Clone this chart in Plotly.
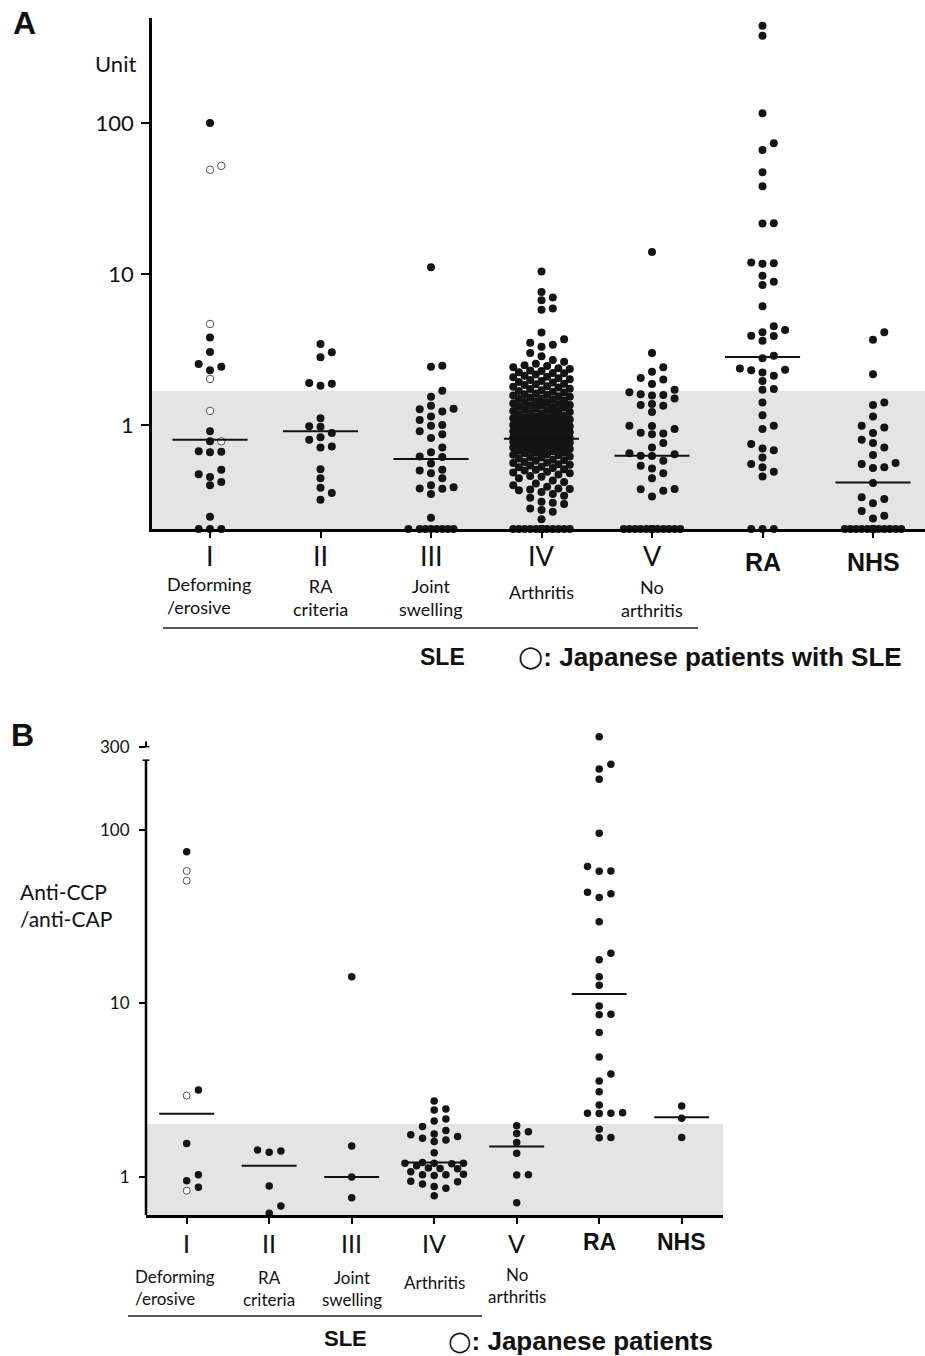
import numpy as np
import plotly.graph_objects as go

W, H = 925, 1356

# ---------------- categories / labels ----------------
groups = ["I", "II", "III", "IV", "V", "RA", "NHS"]
roman_labels = ["I", "II", "III", "IV", "V"]
bold_labels = ["RA", "NHS"]
sub_labels = ["Deforming<br>/erosive", "RA<br>criteria", "Joint<br>swelling", "Arthritis", "No<br>arthritis"]

# ---------------- Panel A (Unit) : 0 = below detection (plotted on axis) ----------------
a_I_filled = [100, 3.8, 3.04, 2.31, 2.43, 2.54, 0.91, 0.78, 0.665, 0.67, 0.66, 0.506, 0.453, 0.40, 0.42, 0.473, 0.247, 0, 0, 0]
a_I_open = [52, 49, 4.67, 2.02, 1.24, 0.78]
a_II = [3.44, 3.03, 2.81, 1.90, 1.82, 1.88, 1.11, 0.98, 0.975, 0.83, 0.885, 0.80, 0.72, 0.71, 0.51, 0.444, 0.385, 0.355, 0.32]
a_III = [11.1, 2.43, 2.47, 1.69, 1.54, 1.28, 1.34, 1.23, 1.27, 1.14, 1.08, 0.99, 1.0, 0.87, 0.91, 0.82, 0.71,
         0.62, 0.615, 0.66, 0.557, 0.506, 0.48, 0.50, 0.444, 0.40, 0.38, 0.35, 0.378, 0.387, 0.243,
         0, 0, 0, 0, 0, 0, 0, 0]
a_IV = [10.4, 7.6, 7.0, 6.7, 5.9, 5.8, 4.1, 3.7, 3.5, 3.4, 3.3, 3.0, 2.85, 2.7,
        2.62, 2.55, 2.49, 2.46, 2.41, 2.38, 2.35, 2.3, 2.28, 2.24, 2.21, 2.2, 2.16, 2.12, 2.09, 2.07, 2.04, 2.01,
        1.99, 1.96, 1.93, 1.91, 1.88, 1.86, 1.84, 1.81, 1.79, 1.77, 1.74, 1.73, 1.7, 1.68, 1.66, 1.64, 1.62, 1.6,
        1.59, 1.57, 1.55, 1.54, 1.52, 1.5, 1.49, 1.47, 1.45, 1.44, 1.42, 1.41, 1.39, 1.38, 1.36, 1.35, 1.34, 1.32,
        1.31, 1.3, 1.28, 1.27, 1.26, 1.24, 1.23, 1.22, 1.2, 1.19, 1.18, 1.17, 1.15, 1.14, 1.13, 1.12, 1.11, 1.1,
        1.09, 1.08, 1.07, 1.06, 1.05, 1.04, 1.03, 1.02, 1.01, 1.0, 0.99, 0.98, 0.975, 0.965, 0.955, 0.95, 0.94,
        0.93, 0.925, 0.915, 0.91, 0.9, 0.895, 0.885, 0.88, 0.87, 0.865, 0.86, 0.85, 0.845, 0.84, 0.83, 0.825,
        0.82, 0.815, 0.81, 0.805, 0.8, 0.795, 0.79, 0.785, 0.78, 0.775, 0.77, 0.765, 0.76, 0.75, 0.745, 0.74,
        0.735, 0.73, 0.72, 0.715, 0.71, 0.7, 0.695, 0.69, 0.68, 0.675, 0.67, 0.66, 0.655, 0.65, 0.64, 0.635,
        0.63, 0.62, 0.615, 0.61, 0.6, 0.59, 0.585, 0.58, 0.57, 0.565, 0.56, 0.55, 0.545, 0.54, 0.53, 0.525,
        0.52, 0.51, 0.505, 0.5, 0.49, 0.485, 0.48, 0.47, 0.46, 0.455,
        0.445, 0.43, 0.42, 0.41, 0.4, 0.39, 0.38, 0.377, 0.374, 0.37, 0.36, 0.35, 0.34, 0.33, 0.31, 0.306,
        0.3, 0.28, 0.274, 0.267, 0.238,
        0, 0, 0, 0, 0, 0, 0, 0, 0, 0, 0, 0, 0, 0, 0, 0, 0, 0, 0, 0]
a_V = [14, 3.0, 2.41, 2.25, 2.05, 2.0, 1.87, 1.58, 1.65, 1.71, 1.57, 1.6, 1.34, 1.50, 1.36, 1.38, 1.22,
       0.99, 0.94, 0.985, 0.87, 0.88, 0.89, 0.76, 0.71, 0.627, 0.64, 0.625, 0.65, 0.516, 0.58, 0.537, 0.48,
       0.444, 0.377, 0.367, 0.376, 0.337,
       0, 0, 0, 0, 0, 0, 0, 0, 0, 0, 0, 0, 0, 0]
a_RA = [441, 378, 116, 73.4, 66.2, 47.1, 38.1, 21.7, 21.6, 11.8, 11.7, 11.9, 8.9, 8.46, 9.75, 6.11, 4.51,
        4.26, 3.9, 3.62, 3.88, 4.11, 2.88, 2.77, 2.37, 2.32, 2.12, 2.23, 1.96, 2.31, 1.73, 1.71, 1.41, 1.16,
        0.94, 0.99, 0.70, 0.75, 0.68, 0.61, 0.552, 0.525, 0.49, 0.457, 0, 0, 0]
a_NHS = [3.67, 4.11, 2.17, 1.36, 1.41, 1.14, 0.99, 0.965, 0.885, 0.80, 0.76, 0.71, 0.633, 0.552, 0.525,
         0.52, 0.56, 0.413, 0.332, 0.324, 0.304, 0.251, 0.27, 0.241,
         0, 0, 0, 0, 0, 0, 0, 0, 0, 0, 0, 0, 0, 0, 0]
a_medians = [0.80, 0.91, 0.595, 0.81, 0.627, 2.82, 0.417]
a_cutoff = 1.69
a_yticks = [1, 10, 100]

# ---------------- Panel B (Anti-CCP / anti-CAP) ----------------
b_I_filled = [74.6, 3.17, 1.56, 1.03, 0.95, 0.873]
b_I_open = [57.8, 50.8, 2.94, 0.834]
b_II = [1.43, 1.39, 1.41, 0.887, 0.68, 0.618]
b_III = [14.2, 1.51, 1.0, 0.76]
b_IV = [2.74, 2.43, 2.46, 2.16, 2.1, 1.95, 1.85, 1.77, 1.71, 1.63, 1.67, 1.75, 1.6, 1.38, 1.2, 1.21, 1.2,
        1.19, 1.2, 1.16, 1.12, 1.125, 1.07, 1.115, 1.03, 1.035, 1.02, 1.03, 0.94, 0.945, 0.91, 0.88, 0.86, 0.78]
b_V = [1.82, 1.78, 1.97, 1.58, 1.37, 1.03, 1.025, 0.71]
b_RA = [343, 223, 238, 195, 95.2, 57.8, 57.5, 61.3, 43.6, 40.6, 42.7, 29.5, 17.8, 19.4, 14.2, 12.7, 9.66,
        8.65, 8.6, 6.78, 4.9, 3.92, 3.57, 3.1, 2.6, 2.33, 2.34, 2.32, 2.33, 1.88, 1.69, 1.68]
b_NHS = [2.56, 2.18, 1.69]
b_medians = [2.31, 1.16, 1.0, 1.21, 1.50, 11.3, 2.21]
b_cutoff = 2.02
b_yticks = [1, 10, 100, 300]
b_axis_top = 251  # broken axis: solid line ends here, 300 tick sits above the gap

# ---------------- geometry (pixels) ----------------
A_X0, A_X1, A_C0, A_PPU = 152, 925, 210, 110.5
A_Y0, A_Y1 = 18, 529
A_LOG = (np.log10(0.205), 2.695)
B_X0, B_X1, B_C0, B_PPU = 146, 723, 186.7, 82.5
B_Y0, B_Y1 = 732, 1215
B_LOG = (-0.219, 2.562)


def px(x):
    return x / W


def py(y):
    return 1 - y / H


def swarm(vals, floor_log, ppd, step, diam):
    ys = [(np.log10(v) if v > 0 else floor_log) * ppd for v in vals]
    order = sorted(range(len(vals)), key=lambda i: ys[i])
    cands = [0, 1, -1, 2, -2, 0.5, -0.5, 1.5, -1.5, 2.5, -2.5]
    placed = []
    offs = [0.0] * len(vals)
    for i in order:
        y = ys[i]
        best, bestd = 0, -1
        for c in cands:
            x = c * step
            md = min((np.hypot(x - a, y - b) for a, b in placed), default=1e9)
            if md >= diam:
                best = c
                break
            if md > bestd:
                bestd, best = md, c
        offs[i] = best * step
        placed.append((best * step, y))
    return offs


def build(group_lists, open_list, floor_log, ppd, ppu, step, diam):
    fx, fy, ox, oy = [], [], [], []
    for gi, vals in enumerate(group_lists):
        kinds = ["f"] * len(vals)
        allv = list(vals)
        if gi == 0:
            allv += open_list
            kinds += ["o"] * len(open_list)
        offs = swarm(allv, floor_log, ppd, step, diam)
        for v, k, o in zip(allv, kinds, offs):
            yv = v if v > 0 else 10 ** floor_log
            xv = gi + o / ppu
            if k == "f":
                fx.append(xv); fy.append(yv)
            else:
                ox.append(xv); oy.append(yv)
    return fx, fy, ox, oy


a_ppd = (A_Y1 - A_Y0) / (A_LOG[1] - A_LOG[0])
b_ppd = (B_Y1 - B_Y0) / (B_LOG[1] - B_LOG[0])

afx, afy, aox, aoy = build([a_I_filled, a_II, a_III, a_IV, a_V, a_RA, a_NHS], a_I_open,
                           A_LOG[0], a_ppd, A_PPU, 11.3, 8.0)
bfx, bfy, box_, boy = build([b_I_filled, b_II, b_III, b_IV, b_V, b_RA, b_NHS], b_I_open,
                            B_LOG[0], b_ppd, B_PPU, 11.7, 7.5)

fig = go.Figure()

FILL = "#141414"
fig.add_trace(go.Scatter(x=afx, y=afy, mode="markers", xaxis="x", yaxis="y", cliponaxis=False,
                         marker=dict(size=8, color=FILL, line=dict(width=0)), hoverinfo="skip"))
fig.add_trace(go.Scatter(x=aox, y=aoy, mode="markers", xaxis="x", yaxis="y", cliponaxis=False,
                         marker=dict(size=7.5, color="white", line=dict(width=1, color="#555")), hoverinfo="skip"))
fig.add_trace(go.Scatter(x=bfx, y=bfy, mode="markers", xaxis="x2", yaxis="y2", cliponaxis=False,
                         marker=dict(size=7.5, color=FILL, line=dict(width=0)), hoverinfo="skip"))
fig.add_trace(go.Scatter(x=box_, y=boy, mode="markers", xaxis="x2", yaxis="y2", cliponaxis=False,
                         marker=dict(size=7, color="white", line=dict(width=1, color="#555")), hoverinfo="skip"))

# median lines
for meds, xa, ya, hw in [(a_medians, "x", "y", 0.34), (b_medians, "x2", "y2", 0.333)]:
    mx, my = [], []
    for gi, m in enumerate(meds):
        mx += [gi - hw, gi + hw, None]
        my += [m, m, None]
    fig.add_trace(go.Scatter(x=mx, y=my, mode="lines", xaxis=xa, yaxis=ya, cliponaxis=False,
                             line=dict(color="#111", width=2), hoverinfo="skip"))

TICKFONT = "Lato, Open Sans, sans-serif"
BOLD = "Liberation Sans, Arial, sans-serif"

fig.update_layout(
    width=W, height=H, margin=dict(l=0, r=0, t=0, b=0),
    paper_bgcolor="white", plot_bgcolor="rgba(0,0,0,0)", showlegend=False,
    xaxis=dict(domain=[px(A_X0), px(A_X1)], range=[(A_X0 - A_C0) / A_PPU, (A_X1 - A_C0) / A_PPU],
               showline=True, linecolor="black", linewidth=2.5, ticks="outside", ticklen=6, tickwidth=1.5,
               tickcolor="black", tickvals=list(range(len(groups))), showticklabels=False,
               showgrid=False, zeroline=False, anchor="y"),
    yaxis=dict(domain=[py(A_Y1), py(A_Y0)], type="log", range=list(A_LOG), showline=True,
               linecolor="black", linewidth=2.5, ticks="outside", ticklen=8, tickwidth=1.5,
               tickcolor="black", tickvals=a_yticks, ticktext=[str(t) for t in a_yticks],
               tickfont=dict(family=TICKFONT, size=22, color="#111"), ticklabelstandoff=3,
               showgrid=False, zeroline=False, anchor="x"),
    xaxis2=dict(domain=[px(B_X0), px(B_X1)], range=[(B_X0 - B_C0) / B_PPU, (B_X1 - B_C0) / B_PPU],
                showline=True, linecolor="black", linewidth=2.5, ticks="outside", ticklen=6, tickwidth=1.5,
                tickcolor="black", tickvals=list(range(len(groups))), showticklabels=False,
                showgrid=False, zeroline=False, anchor="y2"),
    yaxis2=dict(domain=[py(B_Y1), py(B_Y0)], type="log", range=list(B_LOG), showline=False,
                ticks="outside", ticklen=6, tickwidth=1.5, tickcolor="black", tickvals=b_yticks,
                ticktext=[str(t) for t in b_yticks], tickfont=dict(family=TICKFONT, size=17, color="#111"),
                ticklabelstandoff=6, showgrid=False, zeroline=False, anchor="x2"),
)

shapes = []
# grey reference bands (shape coordinates on log axes given as data values)
shapes.append(dict(type="rect", xref="x", yref="y", x0=(A_X0 - A_C0) / A_PPU, x1=(A_X1 - A_C0) / A_PPU,
                   y0=10 ** A_LOG[0], y1=a_cutoff, fillcolor="#e4e4e4", line=dict(width=0), layer="below"))
shapes.append(dict(type="rect", xref="x2", yref="y2", x0=(B_X0 - B_C0) / B_PPU, x1=(B_X1 - B_C0) / B_PPU,
                   y0=10 ** B_LOG[0], y1=b_cutoff, fillcolor="#e4e4e4", line=dict(width=0), layer="below"))
# panel B broken y axis
shapes.append(dict(type="line", xref="paper", yref="y2", x0=px(B_X0), x1=px(B_X0), y0=10 ** B_LOG[0],
                   y1=b_axis_top, line=dict(color="black", width=2.5)))
shapes.append(dict(type="line", xref="paper", yref="y2", x0=px(B_X0 - 3.5), x1=px(B_X0 + 3.5),
                   y0=b_axis_top, y1=b_axis_top, line=dict(color="black", width=1.5)))
shapes.append(dict(type="line", xref="paper", yref="y2", x0=px(B_X0), x1=px(B_X0),
                   y0=300, y1=322, line=dict(color="black", width=2)))
shapes.append(dict(type="line", xref="paper", yref="y2", x0=px(B_X0 - 3), x1=px(B_X0 + 3.5),
                   y0=300, y1=300, line=dict(color="black", width=1.5)))
# SLE underlines
shapes.append(dict(type="line", xref="paper", yref="paper", x0=px(163), x1=px(698), y0=py(628), y1=py(628),
                   line=dict(color="#222", width=1.5)))
shapes.append(dict(type="line", xref="paper", yref="paper", x0=px(128), x1=px(482), y0=py(1316), y1=py(1316),
                   line=dict(color="#222", width=1.5)))
fig.update_layout(shapes=shapes)

anns = []


def ann(text, x, y, size, family=TICKFONT, bold=False, xanchor="center", align="center"):
    t = f"<b>{text}</b>" if bold else text
    anns.append(dict(text=t, x=px(x), y=py(y), xref="paper", yref="paper", showarrow=False,
                     xanchor=xanchor, yanchor="middle", align=align,
                     font=dict(family=family, size=size, color="#111")))


CIRCLE = '<span style="font-family:DejaVu Sans;font-size:{s}px">○</span>'

# Panel A labels
ann("A", 24, 23, 32, BOLD, True)
ann("Unit", 115, 63, 22)
a_cx = [A_C0 + i * A_PPU for i in range(len(groups))]
for i, r in enumerate(roman_labels):
    ann(r, a_cx[i], 555, 27)
for j, r in enumerate(bold_labels):
    ann(r, a_cx[5 + j], 562, 25, BOLD, True)
a_sub_y = [595, 597, 597, 592, 599]
for i, s in enumerate(sub_labels):
    if i == 0:
        ann(s, 165, a_sub_y[i], 18, xanchor="left", align="left")
    else:
        ann(s, a_cx[i], a_sub_y[i], 18)
ann("SLE", 442, 657, 23, BOLD, True)
ann(CIRCLE.format(s=29) + "<b>: Japanese patients with SLE</b>", 516, 656, 26, BOLD, False, xanchor="left")

# Panel B labels
ann("B", 22, 735, 32, BOLD, True)
ann("Anti-CCP<br>/anti-CAP", 18, 905, 21, xanchor="left", align="left")
b_cx = [B_C0 + i * B_PPU for i in range(len(groups))]
for i, r in enumerate(roman_labels):
    ann(r, b_cx[i], 1243, 25)
for j, r in enumerate(bold_labels):
    ann(r, b_cx[5 + j], 1242, 23, BOLD, True)
b_sub_y = [1287, 1288, 1288, 1282, 1285]
for i, s in enumerate(sub_labels):
    if i == 0:
        ann(s, 133, b_sub_y[i], 17, xanchor="left", align="left")
    else:
        ann(s, b_cx[i], b_sub_y[i], 17)
ann("SLE", 345, 1338, 22, BOLD, True)
ann(CIRCLE.format(s=27) + "<b>: Japanese patients</b>", 446, 1340, 26, BOLD, False, xanchor="left")

fig.update_layout(annotations=anns)
fig.write_html("out.html")
